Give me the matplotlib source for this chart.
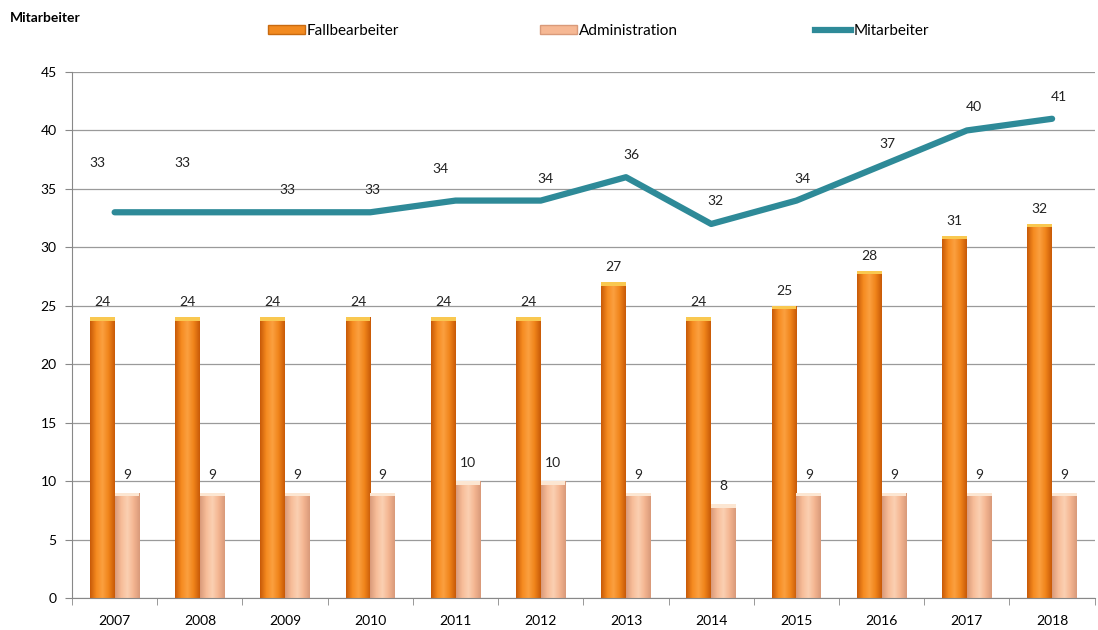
import matplotlib
matplotlib.use("Agg")
import matplotlib.pyplot as plt
import numpy as np
from matplotlib.colors import LinearSegmentedColormap
from matplotlib.lines import Line2D
from matplotlib.patches import Patch

plt.rcParams['font.family'] = ['Lato', 'DejaVu Sans']

years = ['2007', '2008', '2009', '2010', '2011', '2012', '2013', '2014', '2015', '2016', '2017', '2018']
fallbearbeiter = [24, 24, 24, 24, 24, 24, 27, 24, 25, 28, 31, 32]
administration = [9, 9, 9, 9, 10, 10, 9, 8, 9, 9, 9, 9]
mitarbeiter = [33, 33, 33, 33, 34, 34, 36, 32, 34, 37, 40, 41]
series_names = ['Fallbearbeiter', 'Administration', 'Mitarbeiter']

# label offsets (pixels) for the line labels
line_lbl_dx = [-17, -17, 2, 2, -15, 5, 5, 4, 6, 6, 7, 7]
line_lbl_dy = [49, 49, 22, 22, 32, 22, 22, 23, 22, 22, 23, 22]

fig = plt.figure(figsize=(10.98, 6.30), dpi=100)
ax = fig.add_axes([0.0656, 0.0508, 0.9314, 0.8349])

x = np.arange(len(years))
w = 0.29
orange_cmap = LinearSegmentedColormap.from_list('o', ['#C85A08', '#F58A1F', '#FBA040', '#F0841A', '#C85A08'])
peach_cmap = LinearSegmentedColormap.from_list('p', ['#D99A7A', '#F7BC98', '#FBD0B2', '#F4B591', '#D99A7A'])

b1 = ax.bar(x - w / 2, fallbearbeiter, w, color='#F28A20', zorder=2, label=series_names[0])
b2 = ax.bar(x + w / 2, administration, w, color='#F6B894', zorder=2, label=series_names[1])

grad = np.linspace(0, 1, 64).reshape(1, -1)
for bars, cmap, topc in [(b1, orange_cmap, '#F9C850'), (b2, peach_cmap, '#FCE6D2')]:
    for r in bars:
        x0, y0, ww, hh = r.get_x(), r.get_y(), r.get_width(), r.get_height()
        im = ax.imshow(grad, extent=[x0, x0 + ww, y0, y0 + hh], aspect='auto', cmap=cmap, zorder=2.1)
        im.set_clip_path(r)
        ax.fill_between([x0, x0 + ww], y0 + hh - 0.3, y0 + hh, color=topc, zorder=2.2, linewidth=0)

ax.plot(x, mitarbeiter, color='#2E8A98', lw=4.5, zorder=3, solid_capstyle='round', solid_joinstyle='round')

fs = 10
for xi, v in zip(x - w / 2, fallbearbeiter):
    ax.annotate(str(v), (xi, v), xytext=(0, 9), textcoords='offset pixels', ha='center', va='bottom', fontsize=fs, color='#222222')
for xi, v in zip(x + w / 2, administration):
    ax.annotate(str(v), (xi, v), xytext=(0, 12), textcoords='offset pixels', ha='center', va='bottom', fontsize=fs, color='#222222')
for xi, v, dx, dy in zip(x, mitarbeiter, line_lbl_dx, line_lbl_dy):
    ax.annotate(str(v), (xi, v), xytext=(dx, dy), textcoords='offset pixels', ha='center', va='center', fontsize=fs, color='#222222')

ax.set_xlim(-0.5, len(years) - 0.5)
ax.set_ylim(0, 45)
ax.set_yticks(range(0, 46, 5))
ax.set_xticks(x)
ax.set_xticklabels(years)
ax.set_xticks(np.arange(-0.5, len(years), 1), minor=True)
ax.tick_params(axis='x', which='major', length=0, pad=12, labelsize=fs)
ax.tick_params(axis='x', which='minor', length=5, color='#888888', direction='out')
ax.tick_params(axis='y', length=5, color='#888888', labelsize=fs, pad=6)
ax.grid(axis='y', color='#9a9a9a', lw=0.9, zorder=0)
ax.set_axisbelow(True)
for s in ['top', 'right']:
    ax.spines[s].set_visible(False)
ax.spines['left'].set_color('#888888')
ax.spines['bottom'].set_color('#888888')

fig.text(0.009, 0.972, 'Mitarbeiter', fontsize=10, fontweight='bold', va='center', ha='left')

handles = [Patch(facecolor='#F28A20', edgecolor='#C86A10'),
           Patch(facecolor='#F6B894', edgecolor='#D99A7A'),
           Line2D([0], [0], color='#2E8A98', lw=4.5)]
for h, name, xa in zip(handles, series_names, [0.244, 0.492, 0.742]):
    fig.legend([h], [name], loc='center left', bbox_to_anchor=(xa, 0.951), borderaxespad=0, borderpad=0,
               frameon=False, fontsize=11, handlelength=2.4, handleheight=0.5, handletextpad=0.15)

fig.savefig('out.png', dpi=100)
